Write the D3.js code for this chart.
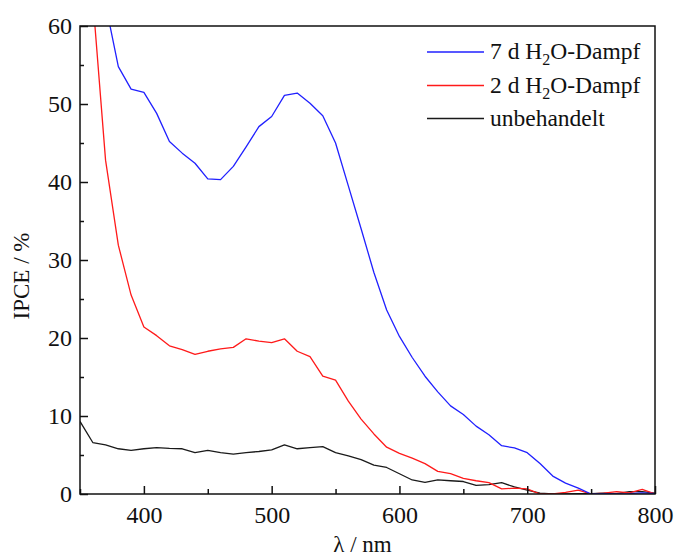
<!DOCTYPE html>
<html>
<head>
<meta charset="utf-8">
<script src="https://cdn.jsdelivr.net/npm/d3@7"></script>
<style>
  html, body { margin: 0; padding: 0; background: #ffffff; }
  svg { display: block; }
  text { font-family: "Liberation Serif", "Times New Roman", serif; fill: #111; }
</style>
</head>
<body>
<svg id="chart" width="675" height="558"></svg>
<script>
// ---- data ----
const wavelengths = [350,360,370,380,390,400,410,420,430,440,450,460,470,480,490,500,510,520,530,540,550,560,570,580,590,600,610,620,630,640,650,660,670,680,690,700,710,720,730,740,750,760,770,780,790,800];
const ipce7d = [null,null,62.8,54.8,51.9,51.5,48.8,45.2,43.7,42.4,40.4,40.3,42.0,44.5,47.1,48.4,51.1,51.4,50.1,48.5,45.0,39.5,34.0,28.4,23.6,20.2,17.5,15.1,13.1,11.3,10.2,8.7,7.6,6.2,5.9,5.3,3.9,2.3,1.4,0.75,0.0,0.05,0.0,0.05,0.15,0.05];
const ipce2d = [null,63.5,42.8,31.9,25.5,21.4,20.3,19.0,18.5,17.9,18.3,18.6,18.8,19.9,19.6,19.4,19.9,18.3,17.6,15.1,14.6,11.9,9.6,7.7,6.0,5.2,4.6,3.9,2.9,2.6,2.0,1.7,1.45,0.65,0.75,0.65,0.0,0.0,0.2,0.5,0.0,0.1,0.3,0.15,0.6,0.0];
const ipceUnbeh = [9.3,6.6,6.3,5.8,5.6,5.8,5.95,5.85,5.8,5.3,5.6,5.3,5.1,5.3,5.45,5.65,6.3,5.8,5.95,6.07,5.3,4.9,4.4,3.7,3.4,2.6,1.8,1.5,1.8,1.7,1.6,1.1,1.2,1.45,0.9,0.5,0.1,0.0,0.0,0.05,0.05,0.1,0.05,0.3,0.3,0.1];
const seriesNames = ["7 d H2O-Dampf", "2 d H2O-Dampf", "unbehandelt"];
const seriesColors = ["#2020ff", "#ff1a1a", "#1a1a1a"];
const xTicks = [400,500,600,700,800];
const xMinor = [350,450,550,650,750];
const yTicks = [0,10,20,30,40,50,60];
const yMinor = [5,15,25,35,45,55];

const W = 675, H = 558;
const margin = {left: 80, right: 20, top: 26, bottom: 64};
const iw = W - margin.left - margin.right;
const ih = H - margin.top - margin.bottom;

const svg = d3.select("#chart");
svg.append("rect").attr("width", W).attr("height", H).attr("fill", "#ffffff");
const g = svg.append("g").attr("transform", `translate(${margin.left},${margin.top})`);

const x = d3.scaleLinear().domain([350, 800]).range([0, iw]);
const y = d3.scaleLinear().domain([0, 60]).range([ih, 0]);

g.append("clipPath").attr("id", "clip")
  .append("rect").attr("width", iw).attr("height", ih);

const series = [ipce7d, ipce2d, ipceUnbeh];
const line = d3.line()
  .defined(d => d.v !== null)
  .x(d => x(d.w))
  .y(d => y(d.v));

// draw order: unbehandelt, 2d, 7d
[2, 1, 0].forEach(i => {
  const pts = wavelengths.map((w, k) => ({w, v: series[i][k]}));
  g.append("path")
    .datum(pts)
    .attr("clip-path", "url(#clip)")
    .attr("fill", "none")
    .attr("stroke", seriesColors[i])
    .attr("stroke-width", 1.3)
    .attr("stroke-linejoin", "round")
    .attr("d", line);
});

// axes
const fontSize = 24;
const xAxis = g.append("g").attr("transform", `translate(0,${ih})`)
  .call(d3.axisBottom(x).tickValues(xTicks).tickSize(-8).tickPadding(12).tickFormat(d3.format("d")));
const yAxis = g.append("g")
  .call(d3.axisLeft(y).tickValues(yTicks).tickSize(-8).tickPadding(8).tickFormat(d3.format("d")));
const xAxisMinor = g.append("g").attr("transform", `translate(0,${ih})`)
  .call(d3.axisBottom(x).tickValues(xMinor).tickSize(-5).tickFormat(""));
const yAxisMinor = g.append("g")
  .call(d3.axisLeft(y).tickValues(yMinor).tickSize(-4).tickFormat(""));
[xAxis, yAxis, xAxisMinor, yAxisMinor].forEach(a => {
  a.select(".domain").remove();
  a.selectAll("line").attr("stroke", "#111").attr("stroke-width", 1.5);
  a.selectAll("text")
    .style("font-family", '"Liberation Serif", "Times New Roman", serif')
    .style("font-size", fontSize + "px")
    .attr("fill", "#111");
});

// frame
g.append("rect").attr("width", iw).attr("height", ih)
  .attr("fill", "none").attr("stroke", "#111").attr("stroke-width", 1.5);

// axis titles
svg.append("text")
  .attr("x", margin.left + iw / 2 - 5).attr("y", 552)
  .attr("text-anchor", "middle")
  .style("font-size", "23px")
  .text("λ / nm");
svg.append("text")
  .attr("transform", `translate(29,${margin.top + ih / 2 + 16}) rotate(-90)`)
  .attr("text-anchor", "middle")
  .style("font-size", "23px")
  .text("IPCE / %");

// legend
const legend = svg.append("g");
const legY = [52, 85.5, 118.5];
seriesNames.forEach((name, i) => {
  legend.append("line")
    .attr("x1", 427).attr("x2", 484)
    .attr("y1", legY[i]).attr("y2", legY[i])
    .attr("stroke", seriesColors[i]).attr("stroke-width", 1.3);
  const t = legend.append("text")
    .attr("x", 490).attr("y", legY[i] + 7)
    .style("font-size", "23.5px");
  const m = name.match(/^(.*H)2(O.*)$/);
  if (m) {
    t.append("tspan").text(m[1]);
    t.append("tspan").attr("dy", 6).style("font-size", "16px").text("2");
    t.append("tspan").attr("dy", -6).text(m[2]);
  } else {
    t.text(name);
  }
});
</script>
</body>
</html>
